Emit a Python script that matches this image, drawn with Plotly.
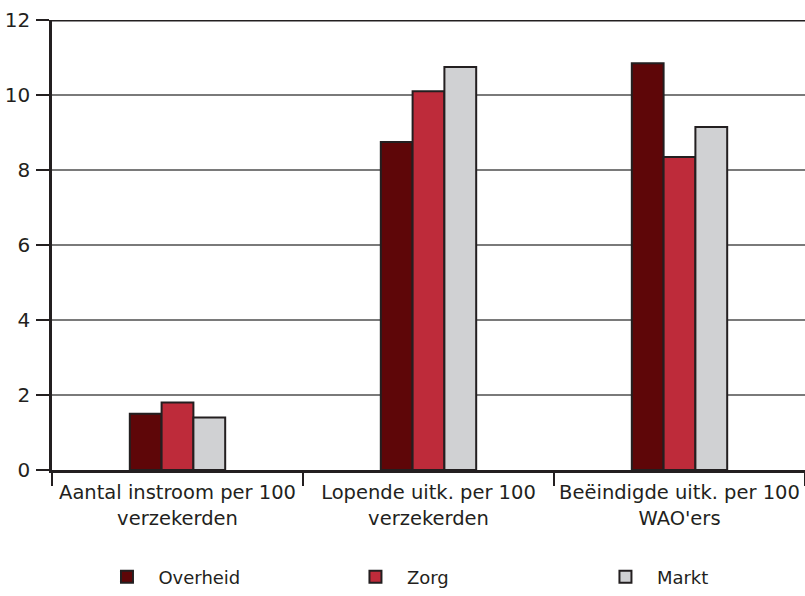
import plotly.graph_objects as go

categories = ["Aantal instroom per 100<br>verzekerden",
              "Lopende uitk. per 100<br>verzekerden",
              "Beëindigde uitk. per 100<br>WAO'ers"]
overheid = [1.5, 8.75, 10.85]
zorg = [1.8, 10.1, 8.35]
markt = [1.4, 10.75, 9.15]

series = [("Overheid", overheid, "#5E0608", "legend", 0.073),
          ("Zorg", zorg, "#BE2B3A", "legend2", 0.403),
          ("Markt", markt, "#D0D1D3", "legend3", 0.735)]

fig = go.Figure()
for name, vals, col, lg, lx in series:
    fig.add_trace(go.Bar(x=categories, y=vals, name="&nbsp;&nbsp;" + name,
                         marker_color=col, legend=lg, showlegend=True,
                         marker_line=dict(color="#231F20", width=2)))
    fig.update_layout({lg: dict(orientation="h", x=lx, y=-0.238, yanchor="middle",
                                xanchor="left", font=dict(size=18), bgcolor="rgba(0,0,0,0)")})

fig.add_shape(type="line", xref="paper", yref="y", x0=0, x1=1, y0=12, y1=12,
              line=dict(color="#231F20", width=3))

fig.update_layout(
    width=805, height=596,
    margin=dict(l=52, r=0, t=20, b=122),
    plot_bgcolor="white", paper_bgcolor="white",
    font=dict(family="DejaVu Sans, sans-serif", size=18, color="#231F20"),
    barmode="group", bargap=0.62, bargroupgap=0, showlegend=True,
)
fig.update_xaxes(tickson="boundaries", ticks="outside", ticklen=13, tickwidth=1.5,
                 tickcolor="#231F20", showline=True, linecolor="#231F20", linewidth=2.5,
                 showgrid=False, automargin=False, tickfont=dict(size=19.5),
                 ticklabelstandoff=3)
fig.update_yaxes(range=[0, 12], dtick=2, ticks="outside", ticklen=13, tickwidth=1.5,
                 tickcolor="#231F20", showline=True, linecolor="#231F20", linewidth=2.5,
                 showgrid=True, gridcolor="#7a7a7a", gridwidth=1.5, zeroline=False,
                 automargin=False, tickfont=dict(size=20), ticklabelstandoff=2)

fig.write_html("out.html", config={"displayModeBar": False},
               post_script="document.body.style.margin='0';")
